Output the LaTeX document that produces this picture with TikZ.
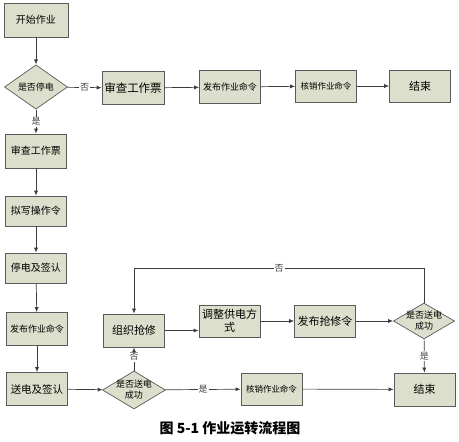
\documentclass[tikz,border=0pt]{standalone}
\usepackage{fontspec}
\setmainfont{Noto Sans CJK SC}
\usetikzlibrary{shapes.geometric,arrows.meta}

\tikzset{every picture/.style={line width=0.7pt}}
\tikzset{
  box/.style={draw={rgb,255:red,90;green,90;blue,90}, fill={rgb,255:red,220;green,223;blue,203}, minimum width=61pt, minimum height=33pt, inner sep=0.75pt, align=center, font=\fontsize{10}{12}\selectfont},
  dec/.style={diamond, draw={rgb,255:red,90;green,90;blue,90}, fill={rgb,255:red,220;green,223;blue,203}, minimum width=63pt, minimum height=36pt, inner sep=0pt, font=\fontsize{9}{11}\selectfont},
  arr/.style={draw={rgb,255:red,60;green,60;blue,60}, -{Latex[length=5pt,width=4pt]}},
  lab/.style={fill=white, inner sep=1pt, font=\fontsize{9}{10}\selectfont, text={rgb,255:red,70;green,70;blue,70}}
}

\begin{document}
\begin{tikzpicture}[x=1pt,y=1pt,yscale=-1,xscale=1]
\useasboundingbox (0,0) rectangle (459,442);

%Shape: Rectangle
\node [box, minimum width=64pt, minimum height=34pt] (start) at (36,20) {开始作业};
%Shape: Diamond
\node [dec] (d1) at (36,87) {是否停电};
%Shape: Rectangle
\node [box, minimum width=62pt, font=\fontsize{11.5}{14}\selectfont] (chk1) at (133,88) {审查工作票};
\node [box, font=\fontsize{9}{11}\selectfont] (pub1) at (230,87) {发布作业命令};
\node [box, minimum height=32pt, font=\fontsize{8.5}{10}\selectfont] (cancel1) at (326,86) {核销作业命令};
\node [box, minimum height=32pt, font=\fontsize{11}{13}\selectfont] (end1) at (420,86) {结束};

%Shape: Rectangle
\node [box, minimum height=34pt] (chk2) at (36,151) {审查工作票};
\node [box, minimum height=30pt] (draft) at (36,211) {拟写操作令};
\node [box, minimum height=30pt] (cut) at (36,268) {停电及签认};
\node [box, font=\fontsize{9}{11}\selectfont] (pub2) at (37,329) {发布作业命令};
\node [box, font=\fontsize{10.5}{12}\selectfont] (feed) at (37,389) {送电及签认};

%Shape: Diamond
\node [dec, minimum width=63pt, minimum height=38pt, label={[align=center, font=\fontsize{9}{11}\selectfont]center:是否送电\\成功}] (d2) at (134,390) {};
%Shape: Rectangle
\node [box, minimum height=32pt, font=\fontsize{8.5}{10}\selectfont] (cancel2) at (271.5,389) {核销作业命令};
\node [box, font=\fontsize{11}{13}\selectfont] (end2) at (424.5,389.5) {结束};

%Shape: Rectangle
\node [box, font=\fontsize{11}{13}\selectfont] (repair) at (134,330.5) {组织抢修};
\node [box, minimum height=32pt, font=\fontsize{11}{13}\selectfont] (adjust) at (229.5,321) {调整供电方\\式};
\node [box, minimum height=32pt, font=\fontsize{11}{13}\selectfont] (order) at (325,321) {发布抢修令};
%Shape: Diamond
\node [dec, minimum width=61pt, label={[align=center, font=\fontsize{9}{11}\selectfont]center:是否送电\\成功}] (d3) at (424,321) {};

\coordinate (back) at (424,268);

%Straight Lines
\draw [arr] (start) -- (d1);
\draw [arr] (d1) -- node [lab] {否} (chk1);
\draw [arr] (chk1) -- (pub1);
\draw [arr] (pub1) -- (cancel1);
\draw [arr] (cancel1) -- (end1);
\draw [arr] (d1) -- node [lab] {是} (chk2);
\draw [arr] (chk2) -- (draft);
\draw [arr] (draft) -- (cut);
\draw [arr] (cut) -- (pub2);
\draw [arr] (pub2) -- (feed);
\draw [arr] (feed) -- (d2);
\draw [arr] (d2) -- node [lab] {是} (cancel2);
\draw [arr] (cancel2) -- (end2);
\draw [arr] (d2) -- node [lab, pos=0.6] {否} (repair);
\draw [arr] (repair) -- (repair -| adjust.west);
\draw [arr] (adjust) -- (order);
\draw [arr] (order) -- (d3);
\draw [arr] (d3) -- node [lab] {是} (end2);
\draw [arr] (d3.north) -- (back) -| node [lab, pos=0.25] {否} (repair.north);

% Text Node
\node [font=\fontsize{14}{16}\selectfont\bfseries] (caption) at (230,428) {图 5-1 作业运转流程图};

\end{tikzpicture}
\end{document}
